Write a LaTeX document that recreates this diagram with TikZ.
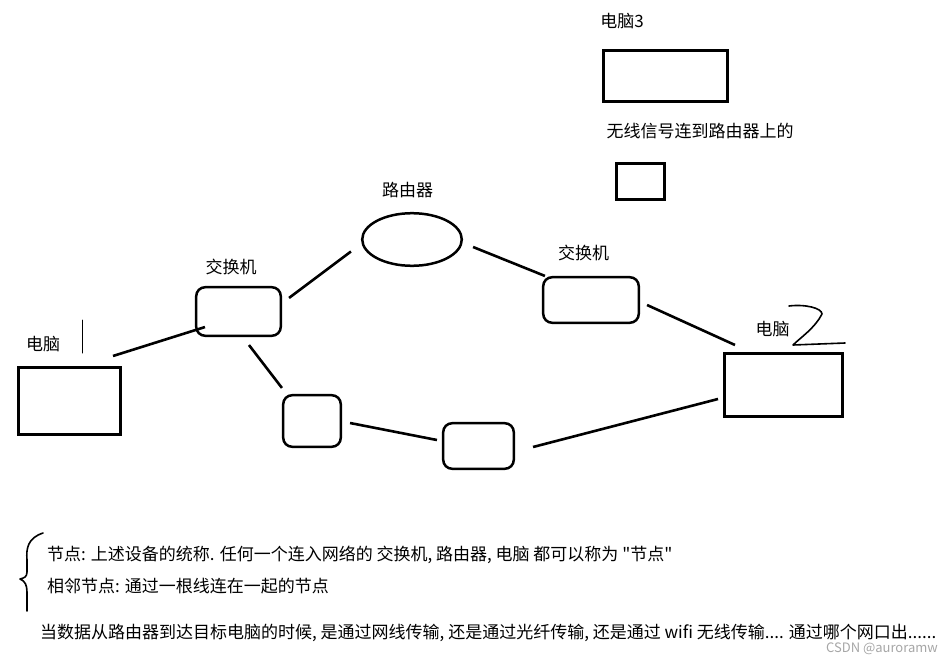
\documentclass[tikz,border=0pt]{standalone}
\usepackage{fontspec}
\setmainfont{Noto Sans CJK SC}[Ligatures=TeXOff]
\usetikzlibrary{shapes.geometric,positioning}

\begin{document}
\begin{tikzpicture}[x=1pt,y=-1pt,
   pc/.style={draw,rectangle,line width=3pt,inner sep=0pt},
   dev/.style={draw,rectangle,line width=2.5pt,rounded corners=9pt,inner sep=0pt},
   link/.style={line width=2.6pt},
   lbl/.style={font=\fontsize{17}{20}\selectfont,inner sep=0pt},
   txt/.style={font=\fontsize{17}{20}\selectfont,inner sep=0pt,anchor=west},
   pen/.style={line width=1.6pt,line cap=round,line join=round}]
   \useasboundingbox (0,0) rectangle (952,661);
   \node[pc,minimum width=102pt,minimum height=67pt] (pc1) at (69.5,401) {};
   \node[dev,minimum width=84.6pt,minimum height=48.6pt] (sw1) at (238.5,311.5) {};
   \node[ellipse,draw,line width=2.5pt,inner sep=0pt,minimum width=99.6pt,minimum height=52.6pt] (router) at (412,239.5) {};
   \node[dev,minimum width=95.6pt,minimum height=45.6pt] (sw2) at (591,300) {};
   \node[pc,minimum width=118pt,minimum height=63pt] (pc2) at (783.5,385) {};
   \node[dev,minimum width=57.6pt,minimum height=51.6pt] (boxa) at (312,421) {};
   \node[dev,minimum width=70.6pt,minimum height=45.6pt] (boxb) at (478.5,446) {};
   \node[pc,minimum width=124pt,minimum height=51pt] (pc3) at (665.5,76) {};
   \node[pc,minimum width=48pt,minimum height=36pt] (wifi) at (640.5,181.5) {};

   \node[lbl] (pc1lbl) [above=13.5pt of pc1, xshift=-26.5pt] {电脑};
   \node[lbl] (sw1lbl) [above=10.5pt of sw1, xshift=-7.5pt] {交换机};
   \node[lbl] (routerlbl) [above=13.5pt of router, xshift=-4.5pt] {路由器};
   \node[lbl] (sw2lbl) [above=15pt of sw2, xshift=-7.5pt] {交换机};
   \node[lbl] (pc2lbl) [above=15pt of pc2, xshift=-11pt] {电脑};
   \node[lbl] (pc3lbl) [above=20pt of pc3, xshift=-43.5pt] {电脑3};
   \node[lbl] (wifilbl) [below=20pt of pc3, xshift=34.5pt] {无线信号连到路由器上的};

   \draw[link] ([shift={(-9,-10)}]pc1.north east) -- ([shift={(10,-10)}]sw1.south west);
   \draw[link] ([shift={(7,12)}]sw1.north east) -- ([shift={(-10,12)}]router.west);
   \draw[link] ([shift={(10,7.5)}]router.east) -- ([shift={(3,0)}]sw2.north west);
   \draw[link] ([shift={(7,5)}]sw2.east) -- ([shift={(12,-7)}]pc2.north west);
   \draw[link] ([shift={(10.5,8)}]sw1.south) -- ([shift={(0,-6)}]boxa.north west);
   \draw[link] ([shift={(8,2)}]boxa.east) -- ([shift={(-5,-6)}]boxb.west);
   \draw[link] ([shift={(18,1)}]boxb.east) -- ([shift={(-5,14)}]pc2.west);

   \draw[pen,line width=1pt] (82,320) -- (82,353);
   \draw[pen] (789,306) .. controls (805,304) and (822,308) .. (822,314)
      .. controls (815,328) and (800,338) .. (793,345) -- (845,343);
   \draw[pen] (43,533) .. controls (28,538) and (26,548) .. (27,560) -- (27,572)
      .. controls (27,577) and (24,578) .. (20,579)
      .. controls (25,581) and (27,585) .. (27,592) -- (27,611);

   \node[txt] (def1) at (47,555) {节点: 上述设备的统称. 任何一个连入网络的 交换机, 路由器, 电脑 都可以称为 "节点"};
   \node[txt] (def2) at (47,586) {相邻节点: 通过一根线连在一起的节点};
   \node[txt] (note) at (40,633) {当数据从路由器到达目标电脑的时候, 是通过网线传输, 还是通过光纤传输, 还是通过 wifi 无线传输.... 通过哪个网口出......};
   \node[font=\fontsize{13}{15}\selectfont,text=black!35,inner sep=0pt,anchor=east] (mark) at (938,649) {CSDN @auroramw};
\end{tikzpicture}
\end{document}
